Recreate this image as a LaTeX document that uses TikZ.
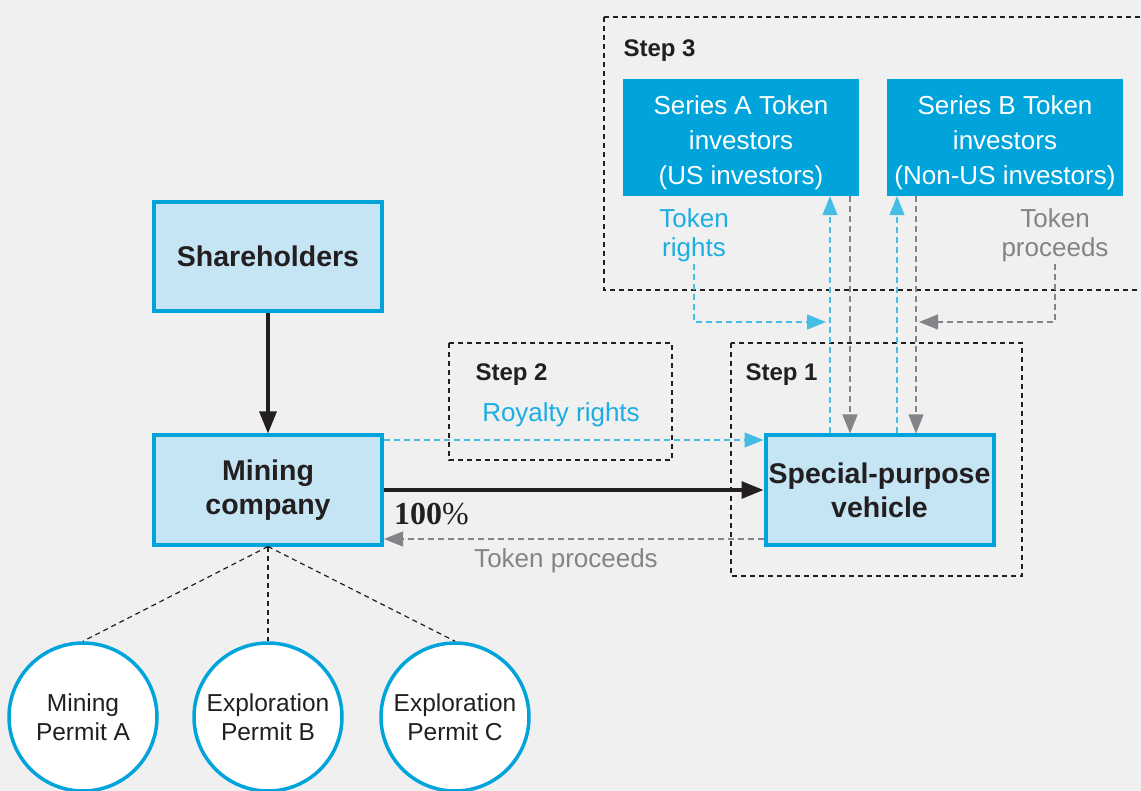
\documentclass[tikz,border=0pt]{standalone}
\usepackage{fontspec}
\setmainfont{Liberation Sans}
\newfontfamily\numfont{Liberation Serif}
\usetikzlibrary{arrows.meta}
\definecolor{bg}{HTML}{F0F0F0}
\definecolor{cyanbox}{HTML}{00A4DA}
\definecolor{palebox}{HTML}{C5E5F5}
\definecolor{cyanline}{HTML}{45BEE6}
\definecolor{cyantext}{HTML}{1CAEE2}
\definecolor{greyline}{HTML}{838487}
\definecolor{ink}{HTML}{231F20}

\begin{document}
\begin{tikzpicture}[x=1pt,y=-1pt,
  entity/.style={draw=cyanbox, line width=4pt, fill=palebox, text=ink,
    font=\fontsize{28.5}{34}\selectfont\bfseries, align=center,
    minimum width=228pt, minimum height=109pt, inner sep=0pt},
  investor/.style={fill=cyanbox, text=white, font=\fontsize{26}{35}\selectfont,
    align=center, minimum width=236pt, minimum height=117pt, inner sep=0pt,
    text height=99pt},
  permit/.style={circle, draw=cyanbox, line width=3.5pt, fill=white,
    minimum size=148pt, inner sep=0pt, text=ink,
    font=\fontsize{24.5}{29}\selectfont, align=center},
  stepbox/.style={draw=ink, line width=1.3pt, dash pattern=on 5pt off 4pt},
  steplabel/.style={anchor=west, text=ink, font=\fontsize{24}{28}\selectfont\bfseries},
  flowlabel/.style={font=\fontsize{26}{29}\selectfont, align=center, inner sep=2pt},
  tip/.style={-{Triangle[length=19pt,width=15pt]}},
  solidarrow/.style={-{Triangle[length=22pt,width=17pt]}, draw=ink, line width=3.2pt},
  bluearrow/.style={tip, draw=cyanline, line width=1.3pt, dash pattern=on 6pt off 4pt},
  greyarrow/.style={tip, draw=greyline, line width=1.3pt, dash pattern=on 6pt off 4pt},
  permitlink/.style={draw=ink, line width=1.2pt, dash pattern=on 5pt off 4pt}
]
% canvas
\fill[bg] (0,0) rectangle (1141,791);
\useasboundingbox (0,0) rectangle (1141,791);

% step frames
\draw[stepbox] (604,17) -- (1160,17);
\draw[stepbox] (604,17) -- (604,290) -- (1160,290);
\draw[stepbox] (449,343) rectangle (672,460);
\draw[stepbox] (731,343) rectangle (1022,576);
\node[steplabel] (s3) at (620,51) {Step 3};
\node[steplabel] (s2) at (472,375) {Step 2};
\node[steplabel] (s1) at (742,375) {Step 1};

% investor groups
\node[investor] (sa) at (741,137.5) {Series A Token\\investors\\(US investors)};
\node[investor] (sb) at (1005,137.5) {Series B Token\\investors\\(Non-US investors)};

% entities
\node[entity] (sh) at (268,256.5) {Shareholders};
\node[entity] (mc) at (268,490) {Mining\\company};
\node[entity] (spv) at (879.5,490) {Special-purpose\\vehicle};

% permits
\node[permit] (pa) at (83,717) {Mining\\Permit A};
\node[permit] (pb) at (268,717) {Exploration\\Permit B};
\node[permit] (pc) at (455,717) {Exploration\\Permit C};

% labels
\node[flowlabel, text=cyantext] (tr) at (694,235) {Token\\rights};
\node[flowlabel, text=greyline] (tp) at (1055,235) {Token\\proceeds};
\node[flowlabel, text=cyantext] (rr) at (561,415) {Royalty rights};
\node[flowlabel, text=greyline] (tpl) at (566,561) {Token proceeds};
\node[anchor=west, text=ink, inner sep=0pt] (pct) at (394,514)
  {\fontsize{32}{34}\selectfont\numfont\bfseries 100\mdseries\%};

% helper coordinates
\coordinate (xa1) at (830,0);
\coordinate (xa2) at (850,0);
\coordinate (xb1) at (897,0);
\coordinate (xb2) at (916,0);
\coordinate (yroy) at (0,440);
\coordinate (yown) at (0,490);
\coordinate (ypro) at (0,539);
\coordinate (trend) at (826,322);
\coordinate (tpend) at (919,322);

% ownership
\draw[solidarrow] (sh.south) -- (mc.north);
\draw[solidarrow] (mc.east |- yown) -- (spv.west |- yown);

% royalty rights and proceeds between company and vehicle
\draw[bluearrow] (mc.east |- yroy) -- (spv.west |- yroy);
\draw[greyarrow] (spv.west |- ypro) -- (mc.east |- ypro);

% token flows between vehicle and investors
\draw[bluearrow] (spv.north -| xa1) -- (sa.south -| xa1);
\draw[greyarrow] (sa.south -| xa2) -- (spv.north -| xa2);
\draw[bluearrow] (spv.north -| xb1) -- (sb.south -| xb1);
\draw[greyarrow] (sb.south -| xb2) -- (spv.north -| xb2);
\draw[bluearrow] (tr.south) |- (trend);
\draw[greyarrow] (tp.south) |- (tpend);

% permit links
\draw[permitlink] (mc.south) -- (pa.north);
\draw[permitlink] (mc.south) -- (pb.north);
\draw[permitlink] (mc.south) -- (pc.north);
\end{tikzpicture}
\end{document}
